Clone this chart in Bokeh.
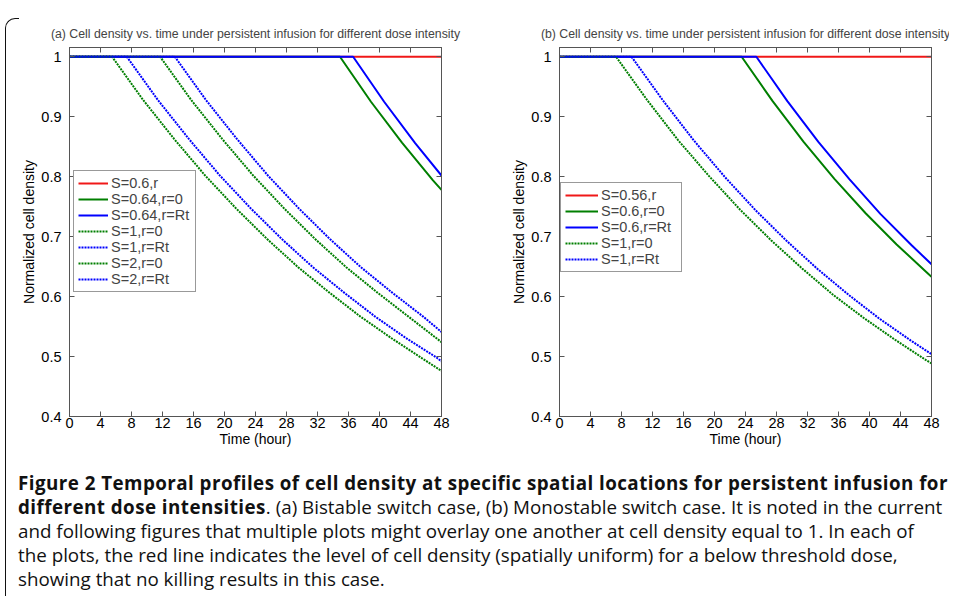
from bokeh.plotting import figure
from bokeh.models import (Range1d, FixedTicker, LinearAxis, Legend, LegendItem,
                          CustomJSTickFormatter, Div)
from bokeh.layouts import row, column
from bokeh.embed import file_html
from bokeh.resources import INLINE

# ---------------- data ----------------
x_ticks = [0, 4, 8, 12, 16, 20, 24, 28, 32, 36, 40, 44, 48]
y_ticks = [0.4, 0.5, 0.6, 0.7, 0.8, 0.9, 1.0]

# panel (a): bistable switch
a_red_t = [0, 48]
a_red_v = [1, 1]
a_g064_t = [0, 34.9, 38.9, 42.9, 46.9, 48]
a_g064_v = [1, 1, 0.925, 0.857, 0.794, 0.778]
a_b064_t = [0, 36.6, 40.6, 44.6, 48]
a_b064_v = [1, 1, 0.925, 0.856, 0.802]
a_g1_t = [0, 11.7, 15.7, 19.7, 23.7, 27.7, 31.7, 35.7, 39.7, 43.7, 47.7, 48]
a_g1_v = [1, 1, 0.928, 0.863, 0.802, 0.747, 0.696, 0.649, 0.607, 0.567, 0.527, 0.524]
a_b1_t = [0, 13.6, 17.6, 21.6, 25.6, 29.6, 33.6, 37.6, 41.6, 45.6, 48]
a_b1_v = [1, 1, 0.928, 0.863, 0.802, 0.747, 0.696, 0.649, 0.607, 0.567, 0.541]
a_g2_t = [0, 5.5, 9.5, 13.5, 17.5, 21.5, 25.5, 29.5, 33.5, 37.5, 41.5, 45.5, 48]
a_g2_v = [1, 1, 0.928, 0.863, 0.802, 0.747, 0.696, 0.649, 0.607, 0.567, 0.531, 0.497, 0.476]
a_b2_t = [0, 7.4, 11.4, 15.4, 19.4, 23.4, 27.4, 31.4, 35.4, 39.4, 43.4, 47.4, 48]
a_b2_v = [1, 1, 0.928, 0.863, 0.802, 0.747, 0.696, 0.649, 0.607, 0.567, 0.531, 0.498, 0.492]

# panel (b): monostable switch
b_red_t = [0, 48]
b_red_v = [1, 1]
b_g06_t = [0, 23.5, 27.5, 31.5, 35.5, 39.5, 43.5, 47.5, 48]
b_g06_v = [1, 1, 0.926, 0.858, 0.796, 0.739, 0.687, 0.639, 0.633]
b_b06_t = [0, 25.4, 29.4, 33.4, 37.4, 41.4, 45.4, 48]
b_b06_v = [1, 1, 0.926, 0.858, 0.796, 0.738, 0.686, 0.654]
b_g1_t = [0, 7.3, 11.3, 15.3, 19.3, 23.3, 27.3, 31.3, 35.3, 39.3, 43.3, 47.3, 48]
b_g1_v = [1, 1, 0.928, 0.861, 0.801, 0.745, 0.694, 0.647, 0.603, 0.564, 0.528, 0.494, 0.4885]
b_b1_t = [0, 9.3, 13.3, 17.3, 21.3, 25.3, 29.3, 33.3, 37.3, 41.3, 45.3, 48]
b_b1_v = [1, 1, 0.928, 0.861, 0.800, 0.744, 0.693, 0.646, 0.603, 0.563, 0.527, 0.504]

title_a = "(a) Cell density vs. time under persistent infusion for different dose intensity"
title_b = "(b) Cell density vs. time under persistent infusion for different dose intensity"
x_label = "Time (hour)"
y_label = "Normalized cell density"

RED = "#f01818"
GREEN = "#007f00"
BLUE = "#0000ff"
FONT = "Liberation Sans"
AXC = "#555555"
DOT = "2 1"


def make_fig(title, series, left_border, right_border, legend_loc, label_w, glyph_w):
    p = figure(output_backend="svg", toolbar_location=None,
               frame_width=372, frame_height=369,
               min_border_left=left_border, min_border_right=right_border,
               min_border_top=47, min_border_bottom=34,
               x_range=Range1d(0, 48), y_range=Range1d(0.4, 1.0155),
               x_axis_type=None, y_axis_type=None, title=title)
    p.title.text_font = FONT
    p.title.text_font_size = "12.3px"
    p.title.text_font_style = "normal"
    p.title.align = "center"
    p.title.standoff = 14
    p.grid.visible = False
    p.outline_line_color = AXC
    p.outline_line_width = 1
    p.background_fill_color = "white"
    p.border_fill_color = "white"

    fmt = CustomJSTickFormatter(code="return Math.abs(tick-1)<1e-9 ? '1' : tick.toFixed(1);")

    for side in ("below", "left", "above", "right"):
        ax = LinearAxis()
        if side in ("below", "above"):
            ax.ticker = FixedTicker(ticks=x_ticks)
        else:
            ax.ticker = FixedTicker(ticks=y_ticks)
            ax.formatter = fmt
        ax.major_tick_in = 5
        ax.major_tick_out = 0
        ax.minor_tick_in = 0
        ax.minor_tick_out = 0
        ax.axis_line_color = AXC
        ax.major_tick_line_color = AXC
        ax.major_label_text_font = FONT
        ax.major_label_text_color = "black"
        ax.major_label_text_font_size = "14.5px"
        ax.axis_label_text_font = FONT
        ax.axis_label_text_font_style = "normal"
        ax.axis_label_text_color = "black"
        if side == "below":
            ax.axis_label = x_label
            ax.axis_label_text_font_size = "14px"
            ax.major_label_standoff = 1
            ax.axis_label_standoff = 0
        elif side == "left":
            ax.axis_label = y_label
            ax.axis_label_text_font_size = "14px"
            ax.major_label_standoff = 8
            ax.axis_label_standoff = 1
        else:
            ax.major_label_text_color = None
            ax.major_label_text_font_size = "1px"
            ax.major_label_standoff = 0
        p.add_layout(ax, side)

    items = []
    for label, t, v, color, dash in series:
        r = p.line(t, v, line_color=color, line_width=2, line_dash=dash)
        items.append(LegendItem(label=label, renderers=[r]))

    leg = Legend(items=items, location=legend_loc)
    leg.label_text_font = FONT
    leg.label_text_font_size = "14.5px"
    leg.glyph_width = glyph_w
    leg.glyph_height = 16
    leg.label_height = 16
    leg.label_width = label_w
    leg.label_standoff = 3
    leg.spacing = 0
    leg.padding = 4
    leg.margin = 0
    leg.border_line_color = "#333333"
    leg.border_line_width = 1
    leg.background_fill_color = "white"
    leg.background_fill_alpha = 1
    p.add_layout(leg)
    return p


series_a = [
    ("S=0.6,r", a_red_t, a_red_v, RED, "solid"),
    ("S=0.64,r=0", a_g064_t, a_g064_v, GREEN, "solid"),
    ("S=0.64,r=Rt", a_b064_t, a_b064_v, BLUE, "solid"),
    ("S=1,r=0", a_g1_t, a_g1_v, GREEN, DOT),
    ("S=1,r=Rt", a_b1_t, a_b1_v, BLUE, DOT),
    ("S=2,r=0", a_g2_t, a_g2_v, GREEN, DOT),
    ("S=2,r=Rt", a_b2_t, a_b2_v, BLUE, DOT),
]
series_b = [
    ("S=0.56,r", b_red_t, b_red_v, RED, "solid"),
    ("S=0.6,r=0", b_g06_t, b_g06_v, GREEN, "solid"),
    ("S=0.6,r=Rt", b_b06_t, b_b06_v, BLUE, "solid"),
    ("S=1,r=0", b_g1_t, b_g1_v, GREEN, DOT),
    ("S=1,r=Rt", b_b1_t, b_b1_v, BLUE, DOT),
]

pa = make_fig(title_a, series_a, 69, 49, (4, 124), 80, 30)
pb = make_fig(title_b, series_b, 69, 18, (1, 144), 76, 33)

caption_html = (
    "<div style='position:fixed; left:5px; top:18px; width:14px; height:620px;"
    " border-left:1.5px solid #111; border-top:1.5px solid #111;"
    " border-top-left-radius:10px;'></div>"
    "<b style='letter-spacing:0.45px'>Figure 2 Temporal profiles of cell density at specific spatial locations for persistent infusion for<br>"
    "different dose intensities</b>. (a) Bistable switch case, (b) Monostable switch case. It is noted in the current<br>"
    "and following figures that multiple plots might overlay one another at cell density equal to 1. In each of<br>"
    "the plots, the red line indicates the level of cell density (spatially uniform) for a below threshold dose,<br>"
    "showing that no killing results in this case."
)
cap = Div(text=caption_html, width=930, margin=(21, 0, 0, 18),
          styles={"font-family": "Open Sans", "font-size": "18.8px",
                  "line-height": "24px", "color": "#111111",
                  "white-space": "nowrap"})

layout = column(row(pa, pb), cap)
open("out.html", "w").write(file_html(layout, INLINE))
